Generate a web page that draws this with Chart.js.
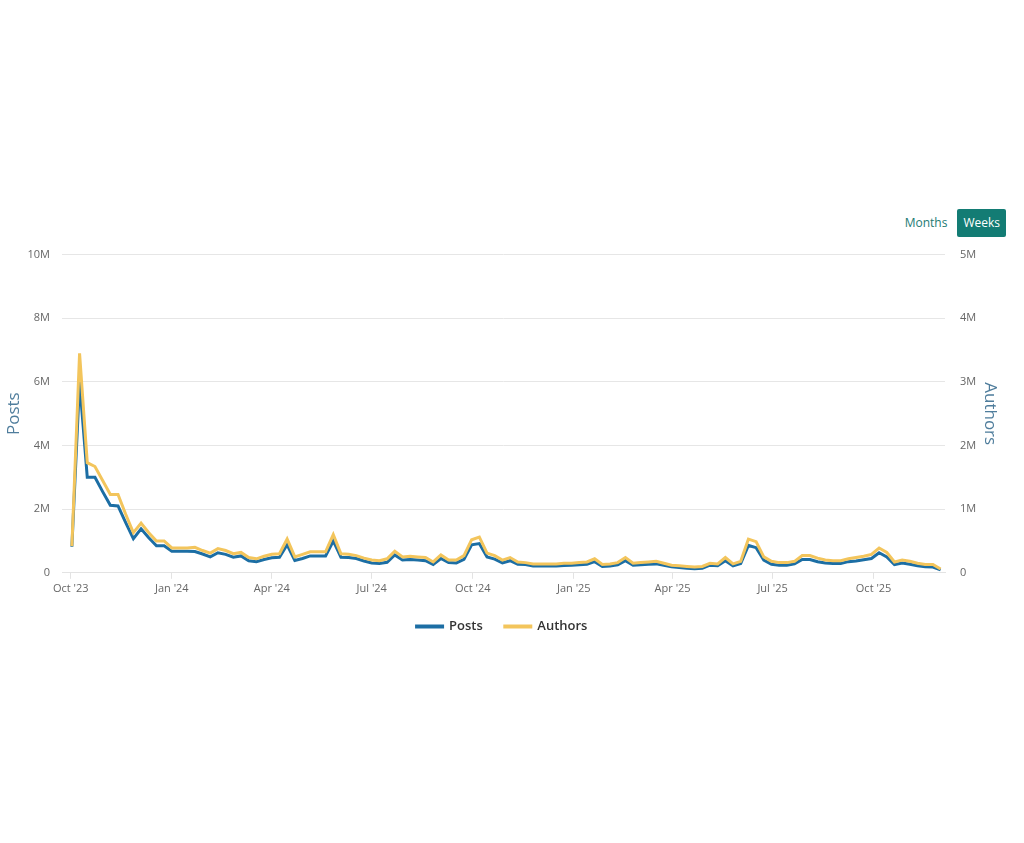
<!DOCTYPE html>
<html>
<head>
<meta charset="utf-8">
<script src="https://cdn.jsdelivr.net/npm/chart.js@4"></script>
<style>
  body { margin: 0; background: #fff; font-family: "Open Sans", sans-serif; }
  #toggle { position: absolute; top: 209px; right: 18px; display: flex; }
  #toggle span { font-size: 12px; padding: 0 6px; height: 28px; line-height: 28px; color: #1d7a73; }
  #toggle span.on { background: #137c74; color: #fff; border-radius: 2px; margin-left: 4px; }
  #wrap { position: absolute; left: 0; top: 233px; width: 1024px; height: 410px; }
</style>
</head>
<body>
<div id="toggle"><span>Months</span><span class="on">Weeks</span></div>
<div id="wrap"><canvas id="myChart"></canvas></div>
<script>
// weekly buckets, first week starts Mon 2 Oct 2023
const firstWeek = '2023-10-02';

const posts = [
    0.82, 6.0, 3.0, 3.0, 2.55, 2.12, 2.1, 1.58, 1.07, 1.38,
    1.1, 0.85, 0.85, 0.68, 0.68, 0.68, 0.67, 0.59, 0.5, 0.63,
    0.58, 0.49, 0.53, 0.38, 0.35, 0.42, 0.47, 0.49, 0.88, 0.39,
    0.45, 0.53, 0.53, 0.53, 1.0, 0.49, 0.48, 0.45, 0.37, 0.31,
    0.29, 0.33, 0.56, 0.40, 0.42, 0.40, 0.38, 0.26, 0.45, 0.32,
    0.31, 0.42, 0.88, 0.92, 0.50, 0.43, 0.31, 0.38, 0.27, 0.26,
    0.21, 0.21, 0.21, 0.21, 0.23, 0.24, 0.25, 0.27, 0.35, 0.20,
    0.21, 0.25, 0.38, 0.24, 0.25, 0.27, 0.28, 0.24, 0.19, 0.17,
    0.14, 0.13, 0.14, 0.24, 0.22, 0.38, 0.22, 0.29, 0.86, 0.79,
    0.40, 0.27, 0.24, 0.24, 0.28, 0.42, 0.42, 0.35, 0.31, 0.29,
    0.29, 0.35, 0.37, 0.41, 0.45, 0.63, 0.50, 0.26, 0.31, 0.27,
    0.22, 0.19, 0.18, 0.09
]; // millions

const authors = [
    0.42, 3.45, 1.73, 1.67, 1.45, 1.23, 1.23, 0.92, 0.63, 0.78,
    0.63, 0.5, 0.5, 0.39, 0.39, 0.39, 0.4, 0.35, 0.31, 0.38,
    0.35, 0.3, 0.32, 0.24, 0.22, 0.26, 0.29, 0.3, 0.53, 0.25,
    0.29, 0.33, 0.33, 0.33, 0.6, 0.3, 0.29, 0.27, 0.23, 0.2,
    0.19, 0.22, 0.34, 0.25, 0.26, 0.25, 0.24, 0.17, 0.28, 0.2,
    0.2, 0.27, 0.52, 0.56, 0.31, 0.27, 0.2, 0.24, 0.17, 0.16,
    0.14, 0.14, 0.14, 0.14, 0.15, 0.15, 0.16, 0.17, 0.22, 0.13,
    0.14, 0.16, 0.24, 0.15, 0.16, 0.17, 0.18, 0.15, 0.12, 0.11,
    0.1, 0.09, 0.1, 0.15, 0.14, 0.24, 0.14, 0.18, 0.53, 0.49,
    0.25, 0.18, 0.16, 0.16, 0.18, 0.27, 0.27, 0.23, 0.2, 0.19,
    0.19, 0.22, 0.24, 0.26, 0.29, 0.39, 0.32, 0.17, 0.2, 0.18,
    0.15, 0.13, 0.13, 0.06
]; // millions

const quarterDates = ['2023-10-01', '2024-01-01', '2024-04-01', '2024-07-01', '2024-10-01',
    '2025-01-01', '2025-04-01', '2025-07-01', '2025-10-01'];
const quarterLabels = ["Oct '23", "Jan '24", "Apr '24", "Jul '24", "Oct '24",
    "Jan '25", "Apr '25", "Jul '25", "Oct '25"];

const DAY = 86400000;
const t0 = Date.parse(firstWeek);
const weekX = i => t0 + i * 7 * DAY;
const tickTimes = quarterDates.map(d => Date.parse(d));

const toPoints = (arr) => arr.map((v, i) => ({ x: weekX(i), y: v * 1e6 }));
const fmtM = (v) => v === 0 ? '0' : (v / 1e6) + 'M';

const ctx = document.querySelector('#myChart');
const chart = new Chart(ctx, {
    type: 'line',
    data: {
        datasets: [
            {
                label: 'Posts',
                data: toPoints(posts),
                borderColor: '#1c6ea4',
                backgroundColor: '#1c6ea4',
                borderWidth: 3,
                pointRadius: 0,
                yAxisID: 'y',
                order: 2,
            },
            {
                label: 'Authors',
                data: toPoints(authors),
                borderColor: '#f3c55c',
                backgroundColor: '#f3c55c',
                borderWidth: 3,
                pointRadius: 0,
                yAxisID: 'y1',
                order: 1,
            },
        ],
    },
    options: {
        responsive: true,
        maintainAspectRatio: false,
        animation: false,
        layout: { padding: { left: 4, right: 24, top: 4 } },
        scales: {
            x: {
                type: 'linear',
                min: t0 - 9 * DAY,
                max: weekX(113) + 4 * DAY,
                afterBuildTicks: (axis) => {
                    axis.ticks = tickTimes.map(v => ({ value: v }));
                },
                ticks: {
                    color: '#666',
                    font: { family: 'Open Sans', size: 11 },
                    maxRotation: 0,
                    autoSkip: false,
                    callback: (v) => quarterLabels[tickTimes.indexOf(v)],
                },
                grid: { drawOnChartArea: false, drawTicks: true, tickLength: 6, color: '#e3e3e3' },
                border: { color: '#e3e3e3' },
            },
            y: {
                position: 'left',
                min: 0,
                max: 10e6,
                afterFit: (axis) => { axis.width = 58; },
                ticks: {
                    stepSize: 2e6,
                    color: '#666',
                    font: { family: 'Open Sans', size: 11 },
                    padding: 12,
                    callback: fmtM,
                },
                grid: { color: '#e6e6e6', drawTicks: false },
                border: { display: false },
                title: {
                    display: true,
                    text: 'Posts',
                    color: '#4f7d9c',
                    font: { family: 'Open Sans', size: 17 },
                    padding: 0,
                },
            },
            y1: {
                position: 'right',
                min: 0,
                max: 5e6,
                afterFit: (axis) => { axis.width = 55; },
                ticks: {
                    stepSize: 1e6,
                    color: '#666',
                    font: { family: 'Open Sans', size: 11 },
                    padding: 15,
                    callback: fmtM,
                },
                grid: { drawOnChartArea: false, drawTicks: false },
                border: { display: false },
                title: {
                    display: true,
                    text: 'Authors',
                    color: '#4f7d9c',
                    font: { family: 'Open Sans', size: 17 },
                    padding: 0,
                },
            },
        },
        plugins: {
            legend: {
                position: 'bottom',
                labels: {
                    boxWidth: 26,
                    boxHeight: 1,
                    padding: 22,
                    color: '#333',
                    font: { family: 'Open Sans', size: 13, weight: '600' },
                    sort: (a, b) => a.datasetIndex - b.datasetIndex,
                },
            },
            tooltip: { enabled: false },
        },
    },
});
</script>
</body>
</html>
